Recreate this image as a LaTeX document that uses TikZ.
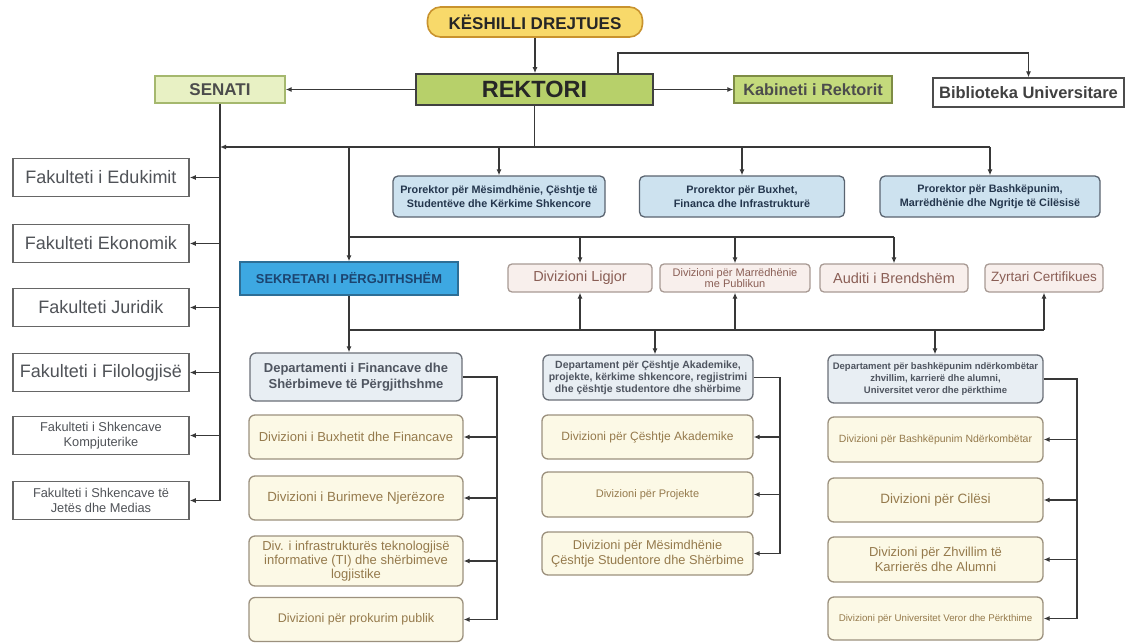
\documentclass[tikz,border=0pt]{standalone}
\usepackage{fontspec}
\setmainfont{Liberation Sans}
\usetikzlibrary{arrows.meta}
\definecolor{keshfill}{HTML}{F8D96A}
\definecolor{keshdraw}{HTML}{C9932E}
\definecolor{rektfill}{HTML}{B7D06A}
\definecolor{senfill}{HTML}{E8F1C4}
\definecolor{sendraw}{HTML}{A5B86E}
\definecolor{kabfill}{HTML}{C4DA7C}
\definecolor{kabdraw}{HTML}{7E8C45}
\definecolor{vrfill}{HTML}{CDE2EF}
\definecolor{vrdraw}{HTML}{5A6470}
\definecolor{vrtext}{HTML}{24364D}
\definecolor{sekfill}{HTML}{3DA8E2}
\definecolor{sekdraw}{HTML}{2D6E96}
\definecolor{sektext}{HTML}{1C4470}
\definecolor{divfill}{HTML}{F8EFEC}
\definecolor{divdraw}{HTML}{A89A94}
\definecolor{divtext}{HTML}{8A5E55}
\definecolor{depfill}{HTML}{E8EEF3}
\definecolor{depdraw}{HTML}{6B7078}
\definecolor{deptext}{HTML}{4F5560}
\definecolor{subfill}{HTML}{FCF9E6}
\definecolor{subdraw}{HTML}{9C917E}
\definecolor{subtext}{HTML}{957A4C}
\definecolor{factext}{HTML}{505358}
\definecolor{linec}{HTML}{383838}
\tikzset{
  box/.style={draw, align=center, inner sep=2pt, anchor=center, line width=1.3pt},
  keshbox/.style={box, rounded corners=13pt, fill=keshfill, draw=keshdraw, line width=1.6pt, text=black!85,
    font=\bfseries\fontsize{17}{19}\selectfont},
  rektbox/.style={box, fill=rektfill, draw=black!75, line width=1.6pt, text=black!85,
    font=\bfseries\fontsize{23.5}{25}\selectfont},
  senbox/.style={box, fill=senfill, draw=sendraw, text=black!70, font=\bfseries\fontsize{17}{19}\selectfont},
  kabbox/.style={box, fill=kabfill, draw=kabdraw, text=black!70, font=\bfseries\fontsize{16.3}{18}\selectfont},
  bibbox/.style={box, fill=white, draw=black!70, text=black!75, font=\bfseries\fontsize{16.5}{18}\selectfont},
  vrbox/.style={box, rounded corners=5pt, fill=vrfill, draw=vrdraw, text=vrtext, font=\bfseries\fontsize{10.8}{13.5}\selectfont},
  sekbox/.style={box, fill=sekfill, draw=sekdraw, text=sektext, font=\bfseries\fontsize{12.9}{14}\selectfont},
  divbox/.style={box, rounded corners=4pt, fill=divfill, draw=divdraw, text=divtext, font=\fontsize{14.5}{15}\selectfont},
  depbox/.style={box, rounded corners=6pt, fill=depfill, draw=depdraw, text=deptext, font=\bfseries\fontsize{8.5}{10.5}\selectfont},
  subbox/.style={box, rounded corners=6pt, fill=subfill, draw=subdraw, text=subtext, font=\fontsize{10.5}{12.5}\selectfont},
  facbox/.style={box, fill=white, draw=black!60, line width=1.5pt, text=factext, minimum width=176pt, minimum height=38pt,
    font=\fontsize{18}{20}\selectfont},
  facsmall/.style={facbox, font=\fontsize{12.8}{15}\selectfont},
  ln/.style={draw=linec, line width=1.2pt},
  arr/.style={ln, -{Latex[length=6pt,width=5pt]}},
}
\begin{document}
\begin{tikzpicture}[x=1pt,y=-1pt]
\useasboundingbox[fill=white] (0,0) rectangle (1127,643);
% top
\node[keshbox, minimum width=215pt, minimum height=30pt] (kesh) at (535,22) {KËSHILLI DREJTUES};
\node[rektbox, minimum width=237pt, minimum height=31pt] (rekt) at (534.5,89.5) {REKTORI};
\node[senbox, minimum width=130pt, minimum height=27pt] (sen) at (220,89.5) {SENATI};
\node[kabbox, minimum width=158pt, minimum height=27pt] (kab) at (813,89.5) {Kabineti i Rektorit};
\node[bibbox, minimum width=191pt, minimum height=29pt] (bib) at (1028.5,92.5) {Biblioteka Universitare};
% faculties
\node[facbox] (f1) at (101,177.5) {Fakulteti i Edukimit};
\node[facbox] (f2) at (101,243.5) {Fakulteti Ekonomik};
\node[facbox] (f3) at (101,307.5) {Fakulteti Juridik};
\node[facbox] (f4) at (101,372.5) {Fakulteti i Filologjisë};
\node[facsmall] (f5) at (101,435.5) {Fakulteti i Shkencave\\Kompjuterike};
\node[facsmall] (f6) at (101,500.5) {Fakulteti i Shkencave të\\Jetës dhe Medias};
% vice rectors
\node[vrbox, minimum width=212pt, minimum height=41pt] (vr1) at (499,196.5) {Prorektor për Mësimdhënie, Çështje të\\Studentëve dhe Kërkime Shkencore};
\node[vrbox, minimum width=205pt, minimum height=41pt] (vr2) at (742,196.5) {Prorektor për Buxhet,\\Financa dhe Infrastrukturë};
\node[vrbox, minimum width=220pt, minimum height=41pt] (vr3) at (990,196.5) {Prorektor për Bashkëpunim,\\Marrëdhënie dhe Ngritje të Cilësisë};
% second row
\node[sekbox, minimum width=218pt, minimum height=33pt] (sek) at (349,278.5) {SEKRETARI I PËRGJITHSHËM};
\node[divbox, minimum width=144pt, minimum height=28pt] (ligj) at (580,278) {Divizioni Ligjor};
\node[divbox, minimum width=150pt, minimum height=28pt, inner sep=1pt, font=\fontsize{11}{10.5}\selectfont] (marr) at (735,278) {Divizioni për Marrëdhënie\\me Publikun};
\node[divbox, minimum width=148pt, minimum height=28pt] (aud) at (894,278) {Auditi i Brendshëm};
\node[divbox, minimum width=118pt, minimum height=28pt, font=\fontsize{13.5}{15}\selectfont] (zyrt) at (1044,278) {Zyrtari Certifikues};
% departments
\node[depbox, minimum width=212pt, minimum height=48pt, font=\bfseries\fontsize{13}{15.5}\selectfont] (dep1) at (356,377) {Departamenti i Financave dhe\\Shërbimeve të Përgjithshme};
\node[depbox, minimum width=210pt, minimum height=45pt, font=\bfseries\fontsize{10.5}{12}\selectfont] (dep2) at (648,377.5) {Departament për Çështje Akademike,\\projekte, kërkime shkencore, regjistrimi\\dhe çështje studentore dhe shërbime};
\node[depbox, minimum width=215pt, minimum height=48pt, font=\bfseries\fontsize{9.5}{12}\selectfont] (dep3) at (935.5,379) {Departament për bashkëpunim ndërkombëtar\\zhvillim, karrierë dhe alumni,\\Universitet veror dhe përkthime};
% left column
\node[subbox, minimum width=214pt, minimum height=44pt, font=\fontsize{13}{15}\selectfont] (d11) at (356,437) {Divizioni i Buxhetit dhe Financave};
\node[subbox, minimum width=214pt, minimum height=44pt, font=\fontsize{13.3}{15}\selectfont] (d12) at (356,498) {Divizioni i Burimeve Njerëzore};
\node[subbox, minimum width=214pt, minimum height=50pt, font=\fontsize{13}{14}\selectfont] (d13) at (356,561) {Div. i infrastrukturës teknologjisë\\informative (TI) dhe shërbimeve\\logjistike};
\node[subbox, minimum width=214pt, minimum height=44pt, font=\fontsize{12.5}{14}\selectfont] (d14) at (356,619.5) {Divizioni për prokurim publik};
% middle column
\node[subbox, minimum width=211pt, minimum height=44pt, font=\fontsize{12}{14}\selectfont] (d21) at (647.5,437) {Divizioni për Çështje Akademike};
\node[subbox, minimum width=211pt, minimum height=45pt, font=\fontsize{11}{13}\selectfont] (d22) at (647.5,494.5) {Divizioni për Projekte};
\node[subbox, minimum width=211pt, minimum height=43pt, font=\fontsize{12.8}{15}\selectfont] (d23) at (647.5,553.5) {Divizioni për Mësimdhënie\\Çështje Studentore dhe Shërbime};
% right column
\node[subbox, minimum width=215pt, minimum height=45pt, font=\fontsize{10.5}{12}\selectfont] (d31) at (935.5,439.5) {Divizioni për Bashkëpunim Ndërkombëtar};
\node[subbox, minimum width=215pt, minimum height=44pt, font=\fontsize{13.5}{15}\selectfont] (d32) at (935.5,500) {Divizioni për Cilësi};
\node[subbox, minimum width=215pt, minimum height=45pt, font=\fontsize{13}{15}\selectfont] (d33) at (935.5,559.5) {Divizioni për Zhvillim të\\Karrierës dhe Alumni};
\node[subbox, minimum width=215pt, minimum height=43pt, font=\fontsize{9.75}{11}\selectfont] (d34) at (935.5,618.5) {Divizioni për Universitet Veror dhe Përkthime};
% ---------- connectors
\coordinate (rb) at (618,53);
\coordinate (hb) at (0,147);
\coordinate (hs) at (0,237);
\coordinate (hd) at (0,330);
\draw[arr] (kesh.south) -- (kesh.south |- rekt.north);
\draw[arr] (rb |- rekt.north) -- (rb) -| (bib.north);
\draw[arr] (rekt.west) -- (sen.east);
\draw[arr] (rekt.east) -- (kab.west);
\draw[ln] (rekt.south) -- (rekt.south |- hb);
\draw[arr] (rekt.south |- hb) -- (sen.south |- hb);
\draw[ln] (rekt.south |- hb) -- (vr3.north |- hb);
\draw[arr] (vr1.north |- hb) -- (vr1.north);
\draw[arr] (vr2.north |- hb) -- (vr2.north);
\draw[arr] (vr3.north |- hb) -- (vr3.north);
% senate bus
\draw[ln] (sen.south) -- (sen.south |- f6.east);
\foreach \f in {f1,f2,f3,f4,f5,f6} \draw[arr] (sen.south |- \f.east) -- (\f.east);
% secretary
\draw[arr] (sek.north |- hb) -- (sek.north);
\draw[ln] (sek.north |- hs) -- (aud.north |- hs);
\foreach \n in {ligj,marr,aud} \draw[arr] (\n.north |- hs) -- (\n.north);
\draw[ln] (sek.south) -- (sek.south |- hd) -- (zyrt.south |- hd);
\foreach \n in {ligj,marr,zyrt} \draw[arr] (\n.south |- hd) -- (\n.south);
\draw[arr] (sek.south |- hd) -- (sek.south |- dep1.north);
\coordinate (c2) at (655,0);
\coordinate (c3) at (935,0);
\draw[arr] (c2 |- hd) -- (c2 |- dep2.north);
\draw[arr] (c3 |- hd) -- (c3 |- dep3.north);
% department buses
\coordinate (b1) at (497,0);
\coordinate (b2) at (780,0);
\coordinate (b3) at (1077,0);
\draw[ln] (dep1.east) -- (b1 |- dep1.east) -- (b1 |- d14.east);
\foreach \n in {d11,d12,d13,d14} \draw[arr] (b1 |- \n.east) -- (\n.east);
\draw[ln] (dep2.east) -- (b2 |- dep2.east) -- (b2 |- d23.east);
\foreach \n in {d21,d22,d23} \draw[arr] (b2 |- \n.east) -- (\n.east);
\draw[ln] (dep3.east) -- (b3 |- dep3.east) -- (b3 |- d34.east);
\foreach \n in {d31,d32,d33,d34} \draw[arr] (b3 |- \n.east) -- (\n.east);
\end{tikzpicture}
\end{document}
